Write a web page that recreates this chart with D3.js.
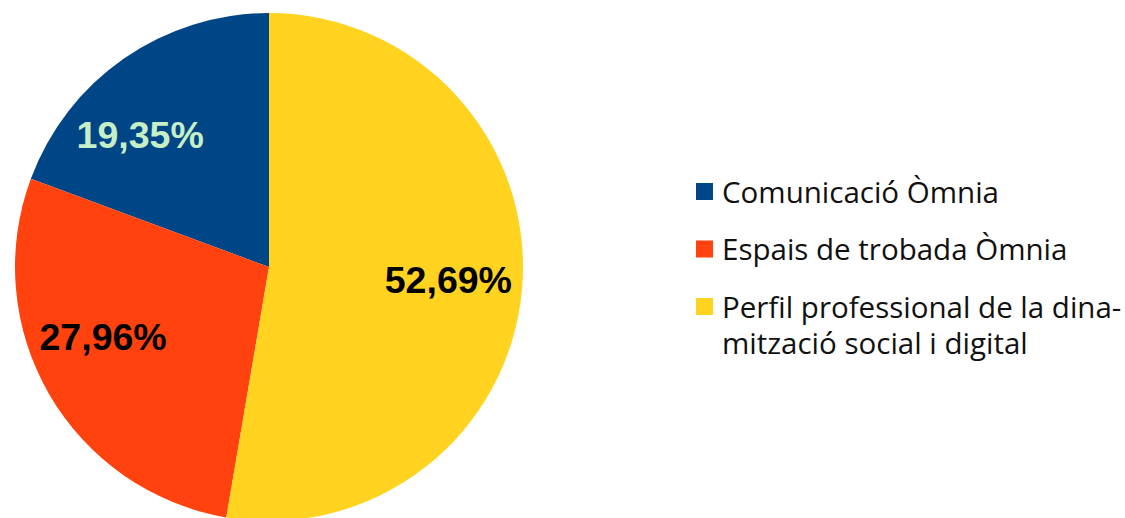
<!DOCTYPE html>
<html>
<head>
<meta charset="utf-8">
<script src="https://cdn.jsdelivr.net/npm/d3@7/dist/d3.min.js"></script>
<style>
	body { margin: 0; background: #fff; }
	svg { display: block; }
</style>
</head>
<body>
<div id="chart"></div>
<script>
// data, legend order
var categories = ["Comunicació Òmnia", "Espais de trobada Òmnia", "Perfil professional de la dina-|mització social i digital"];
var values = [19.35, 27.96, 52.69];
var colors = ["#004586", "#ff420e", "#ffd320"];
var labelColors = ["#c6efc6", "#000000", "#000000"];

document.addEventListener("DOMContentLoaded", function() {

	var width = 1125;
	var height = 518;
	var cx = 269, cy = 267, radius = 254;
	var labelRadius = 180;
	// small shifts so the labels sit like the original
	var labelNudge = [[-26, 15], [-10, -20], [0, -3]];

	var svg = d3.select("#chart").append("svg")
		.attr("width", width)
		.attr("height", height);

	var data = values.map(function(v, i) {
		return { name: categories[i], value: v, color: colors[i], labelColor: labelColors[i], i: i };
	});

	// slices go clockwise from the top: largest first, then reverse legend order
	var pie = d3.pie()
		.value(d => d.value)
		.sort((a, b) => b.i - a.i);

	var arc = d3.arc().innerRadius(0).outerRadius(radius);
	var labelArc = d3.arc().innerRadius(labelRadius).outerRadius(labelRadius);

	var g = svg.append("g").attr("transform", "translate(" + cx + "," + cy + ")");

	var arcs = pie(data);

	g.selectAll("path")
		.data(arcs)
		.enter().append("path")
		.attr("d", arc)
		.attr("fill", d => d.data.color);

	var fmt = d3.format(".2f");

	g.selectAll("text")
		.data(arcs)
		.enter().append("text")
		.attr("x", d => labelArc.centroid(d)[0] + labelNudge[d.data.i][0])
		.attr("y", d => labelArc.centroid(d)[1] + labelNudge[d.data.i][1])
		.attr("dy", "0.36em")
		.attr("text-anchor", "middle")
		.attr("font-family", "'Liberation Sans', Arial, sans-serif")
		.attr("font-weight", "bold")
		.attr("font-size", 37.5)
		.attr("fill", d => d.data.labelColor)
		.text(d => fmt(d.data.value).replace(".", ",") + "%");

	// legend
	var legend = svg.append("g").attr("transform", "translate(696,183)");
	var rowY = [0, 57.5, 115];

	var item = legend.selectAll("g")
		.data(data)
		.enter().append("g")
		.attr("transform", (d, i) => "translate(0," + rowY[i] + ")");

	item.append("rect")
		.attr("width", 17)
		.attr("height", 17)
		.attr("fill", d => d.color);

	item.append("text")
		.attr("y", 19.5)
		.attr("font-family", "'Open Sans', sans-serif")
		.attr("font-size", 29.5)
		.attr("fill", "#111")
		.each(function(d) {
			var lines = d.name.split("|");
			var t = d3.select(this);
			lines.forEach(function(line, k) {
				t.append("tspan")
					.attr("x", 26)
					.attr("dy", k == 0 ? 0 : 36.5)
					.text(line);
			});
		});
});
</script>
</body>
</html>
